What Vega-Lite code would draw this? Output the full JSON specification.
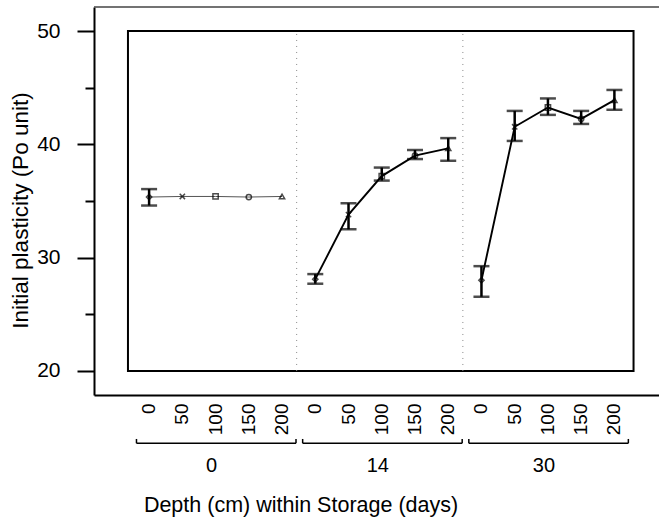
{
  "$schema": "https://vega.github.io/schema/vega-lite/v6.json",
  "width": 565,
  "height": 388,
  "autosize": {"type": "none"},
  "padding": {"left": 94, "top": 7, "right": 0, "bottom": 126},
  "background": "white",
  "config": {
    "view": {"stroke": null},
    "font": "Liberation Sans",
    "axisX": {"orient": "bottom", "labelExpr": "split(datum.label, '/')[1]", "labelAngle": 270, "labelFontSize": 19, "labelPadding": 8, "labelColor": "black", "labelOverlap": false, "ticks": false, "tickSize": 0, "domainColor": "black", "domainWidth": 2, "grid": false, "titleFontSize": 21.5, "titleFontWeight": "normal", "titleColor": "black", "titleX": 206.5, "titleY": 116.7, "titleBaseline": "alphabetic", "titleAlign": "center"}
  },
  "datasets": {
    "obs": [
      {"storage": "0", "depth": "0", "cell": "0/0", "mean": 35.35, "lo": 34.6, "hi": 36.05},
      {"storage": "0", "depth": "50", "cell": "0/50", "mean": 35.4, "lo": null, "hi": null},
      {"storage": "0", "depth": "100", "cell": "0/100", "mean": 35.4, "lo": null, "hi": null},
      {"storage": "0", "depth": "150", "cell": "0/150", "mean": 35.35, "lo": null, "hi": null},
      {"storage": "0", "depth": "200", "cell": "0/200", "mean": 35.4, "lo": null, "hi": null},
      {"storage": "14", "depth": "0", "cell": "14/0", "mean": 28.1, "lo": 27.7, "hi": 28.55},
      {"storage": "14", "depth": "50", "cell": "14/50", "mean": 33.8, "lo": 32.5, "hi": 34.8},
      {"storage": "14", "depth": "100", "cell": "14/100", "mean": 37.2, "lo": 36.8, "hi": 37.95},
      {"storage": "14", "depth": "150", "cell": "14/150", "mean": 39.0, "lo": 38.7, "hi": 39.5},
      {"storage": "14", "depth": "200", "cell": "14/200", "mean": 39.65, "lo": 38.55, "hi": 40.55},
      {"storage": "30", "depth": "0", "cell": "30/0", "mean": 28.0, "lo": 26.55, "hi": 29.25},
      {"storage": "30", "depth": "50", "cell": "30/50", "mean": 41.55, "lo": 40.3, "hi": 42.95},
      {"storage": "30", "depth": "100", "cell": "30/100", "mean": 43.25, "lo": 42.6, "hi": 44.05},
      {"storage": "30", "depth": "150", "cell": "30/150", "mean": 42.25, "lo": 41.8, "hi": 42.95},
      {"storage": "30", "depth": "200", "cell": "30/200", "mean": 43.9, "lo": 43.05, "hi": 44.8}
    ],
    "groups": [
      {"storage": "0", "first": "0/0", "mid": "0/100", "last": "0/200"},
      {"storage": "14", "first": "14/0", "mid": "14/100", "last": "14/200"},
      {"storage": "30", "first": "30/0", "mid": "30/100", "last": "30/200"}
    ]
  },
  "layer": [
    {
      "data": {"values": [{"frame": "inner"}]},
      "mark": {"type": "rect", "fill": null, "stroke": "black", "strokeWidth": 2},
      "encoding": {
        "x": {"datum": "0/0", "type": "nominal", "bandPosition": -0.136,
          "scale": {"type": "band", "domain": ["0/0","0/50","0/100","0/150","0/200","14/0","14/50","14/100","14/150","14/200","30/0","30/50","30/100","30/150","30/200"], "paddingInner": 0, "paddingOuter": 1.06, "align": 0.579},
          "axis": {"title": "Depth (cm) within Storage (days)"}},
        "x2": {"datum": "30/200", "bandPosition": 1.076},
        "y": {"datum": 20, "type": "quantitative", "scale": {"domain": [17.88, 52.12], "nice": false, "zero": false}, "axis": null},
        "y2": {"datum": 50}
      }
    },
    {
      "data": {"name": "groups"},
      "transform": [{"filter": "datum.storage !== '0'"}],
      "mark": {"type": "rule", "stroke": "#888888", "strokeWidth": 1, "strokeDash": [1, 5]},
      "encoding": {
        "x": {"field": "first", "type": "nominal", "bandPosition": -0.06,
          "scale": {"type": "band", "domain": ["0/0","0/50","0/100","0/150","0/200","14/0","14/50","14/100","14/150","14/200","30/0","30/50","30/100","30/150","30/200"], "paddingInner": 0, "paddingOuter": 1.06, "align": 0.579},
          "axis": {"title": "Depth (cm) within Storage (days)"}},
        "y": {"datum": 20, "type": "quantitative", "scale": {"domain": [17.88, 52.12], "nice": false, "zero": false}, "axis": null},
        "y2": {"datum": 50}
      }
    },
    {
      "data": {"name": "obs"},
      "mark": {"type": "line"},
      "encoding": {
        "x": {"field": "cell", "type": "nominal",
          "scale": {"type": "band", "domain": ["0/0","0/50","0/100","0/150","0/200","14/0","14/50","14/100","14/150","14/200","30/0","30/50","30/100","30/150","30/200"], "paddingInner": 0, "paddingOuter": 1.06, "align": 0.579},
          "axis": {"title": "Depth (cm) within Storage (days)"}},
        "y": {"field": "mean", "type": "quantitative",
          "scale": {"domain": [17.88, 52.12], "nice": false, "zero": false},
          "axis": {"orient": "left", "values": [20, 30, 40, 50], "tickSize": 17, "tickWidth": 2, "tickColor": "black", "domainColor": "black", "domainWidth": 2, "labelFontSize": 21, "labelPadding": 17, "labelColor": "black", "grid": false,
            "title": "Initial plasticity (Po unit)", "titleFontSize": 22.5, "titleFontWeight": "normal", "titleColor": "black", "titleAngle": 270, "titleBaseline": "middle", "titleAlign": "center", "titleX": -74, "titleY": 203}},
        "detail": {"field": "storage", "type": "nominal"},
        "color": {"condition": {"test": "datum.storage === '0'", "value": "#555555"}, "value": "black"},
        "strokeWidth": {"condition": {"test": "datum.storage === '0'", "value": 1}, "value": 1.9}
      }
    },
    {
      "data": {"name": "obs"},
      "mark": {"type": "point", "filled": false, "size": 28, "strokeWidth": 1.5, "color": "black"},
      "encoding": {
        "x": {"field": "cell", "type": "nominal",
          "scale": {"type": "band", "domain": ["0/0","0/50","0/100","0/150","0/200","14/0","14/50","14/100","14/150","14/200","30/0","30/50","30/100","30/150","30/200"], "paddingInner": 0, "paddingOuter": 1.06, "align": 0.579},
          "axis": {"title": "Depth (cm) within Storage (days)"}},
        "y": {"field": "mean", "type": "quantitative", "scale": {"domain": [17.88, 52.12], "nice": false, "zero": false}, "axis": null},
        "shape": {"field": "depth", "type": "nominal", "scale": {"domain": ["0", "50", "100", "150", "200"], "range": ["diamond", "M-1,-1L1,1M-1,1L1,-1", "square", "circle", "triangle-up"]}, "legend": null}
      }
    },
    {
      "data": {"name": "obs"},
      "transform": [{"filter": "isValid(datum.lo)"}],
      "mark": {"type": "errorbar", "ticks": true, "size": 16, "thickness": 2.5, "color": "black"},
      "encoding": {
        "x": {"field": "cell", "type": "nominal",
          "scale": {"type": "band", "domain": ["0/0","0/50","0/100","0/150","0/200","14/0","14/50","14/100","14/150","14/200","30/0","30/50","30/100","30/150","30/200"], "paddingInner": 0, "paddingOuter": 1.06, "align": 0.579},
          "axis": {"title": "Depth (cm) within Storage (days)"}},
        "y": {"field": "lo", "type": "quantitative", "scale": {"domain": [17.88, 52.12], "nice": false, "zero": false}, "axis": null},
        "y2": {"field": "hi"}
      }
    },
    {
      "data": {"name": "groups"},
      "mark": {"type": "text", "fontSize": 20, "baseline": "middle", "align": "center", "color": "black"},
      "encoding": {
        "x": {"field": "mid", "type": "nominal", "bandPosition": 0.38,
          "scale": {"type": "band", "domain": ["0/0","0/50","0/100","0/150","0/200","14/0","14/50","14/100","14/150","14/200","30/0","30/50","30/100","30/150","30/200"], "paddingInner": 0, "paddingOuter": 1.06, "align": 0.579},
          "axis": {"title": "Depth (cm) within Storage (days)"}},
        "y": {"datum": 11.62, "type": "quantitative", "scale": {"domain": [17.88, 52.12], "nice": false, "zero": false}, "axis": null},
        "text": {"field": "storage", "type": "nominal"}
      }
    },
    {
      "data": {"name": "groups"},
      "mark": {"type": "rule", "color": "black", "strokeWidth": 1.5},
      "encoding": {
        "x": {"field": "first", "type": "nominal", "bandPosition": 0.12,
          "scale": {"type": "band", "domain": ["0/0","0/50","0/100","0/150","0/200","14/0","14/50","14/100","14/150","14/200","30/0","30/50","30/100","30/150","30/200"], "paddingInner": 0, "paddingOuter": 1.06, "align": 0.579},
          "axis": {"title": "Depth (cm) within Storage (days)"}},
        "x2": {"field": "last", "bandPosition": 0.92},
        "y": {"datum": 13.62, "type": "quantitative", "scale": {"domain": [17.88, 52.12], "nice": false, "zero": false}, "axis": null}
      }
    },
    {
      "data": {"name": "groups"},
      "mark": {"type": "rule", "color": "black", "strokeWidth": 1.5},
      "encoding": {
        "x": {"field": "first", "type": "nominal", "bandPosition": 0.12,
          "scale": {"type": "band", "domain": ["0/0","0/50","0/100","0/150","0/200","14/0","14/50","14/100","14/150","14/200","30/0","30/50","30/100","30/150","30/200"], "paddingInner": 0, "paddingOuter": 1.06, "align": 0.579},
          "axis": {"title": "Depth (cm) within Storage (days)"}},
        "y": {"datum": 13.62, "type": "quantitative", "scale": {"domain": [17.88, 52.12], "nice": false, "zero": false}, "axis": null},
        "y2": {"datum": 14.0}
      }
    },
    {
      "data": {"name": "groups"},
      "mark": {"type": "rule", "color": "black", "strokeWidth": 1.5},
      "encoding": {
        "x": {"field": "last", "type": "nominal", "bandPosition": 0.92,
          "scale": {"type": "band", "domain": ["0/0","0/50","0/100","0/150","0/200","14/0","14/50","14/100","14/150","14/200","30/0","30/50","30/100","30/150","30/200"], "paddingInner": 0, "paddingOuter": 1.06, "align": 0.579},
          "axis": {"title": "Depth (cm) within Storage (days)"}},
        "y": {"datum": 13.62, "type": "quantitative", "scale": {"domain": [17.88, 52.12], "nice": false, "zero": false}, "axis": null},
        "y2": {"datum": 14.0}
      }
    },
    {
      "data": {"values": [{"frame": "top"}]},
      "mark": {"type": "rule", "color": "#444444", "strokeWidth": 1.5},
      "encoding": {
        "y": {"datum": 52.12, "type": "quantitative", "scale": {"domain": [17.88, 52.12], "nice": false, "zero": false},
          "axis": {"orient": "left", "values": [25, 35, 45], "tickSize": 9, "tickWidth": 2, "tickColor": "black", "labels": false, "domain": false, "title": null, "grid": false}}
      }
    }
  ],
  "resolve": {"axis": {"y": "independent"}}
}
